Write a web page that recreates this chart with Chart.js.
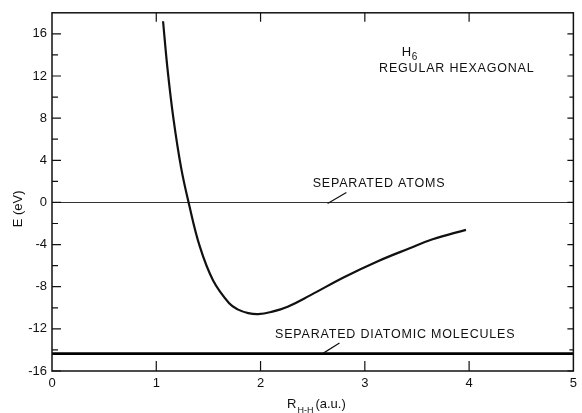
<!DOCTYPE html>
<html><head><meta charset="utf-8">
<style>html,body{margin:0;padding:0;background:#fff;}canvas{display:block;}</style>
<script src="https://cdn.jsdelivr.net/npm/chart.js@4.4.0/dist/chart.umd.min.js"></script>
</head><body>
<canvas id="c" width="582" height="413"></canvas>
<script>
// ---- data ----
const rValues = [1.065, 1.107, 1.164, 1.238, 1.310, 1.418, 1.545, 1.702, 1.78, 1.882, 1.977, 2.10, 2.26, 2.48, 2.80, 3.12, 3.43, 3.65, 3.97];
const eValues = [17.2, 12.75, 8.0, 3.3, 0.0, -4.2, -7.4, -9.6, -10.15, -10.5, -10.6, -10.4, -9.9, -8.8, -7.1, -5.6, -4.35, -3.5, -2.6];
const separatedAtomsE = 0;
const separatedDiatomicE = -14.35;
const xTickLabels = [0, 1, 2, 3, 4, 5];
const yTickLabels = [-16, -12, -8, -4, 0, 4, 8, 12, 16];
const yMinorTicks = [-14, -10, -6, -2, 2, 6, 10, 14];
const xRange = [0, 5];
const yRange = [-16, 18];

const FONT = '"Liberation Sans", Arial, sans-serif';

const curve = rValues.map((r, i) => ({x: r, y: eValues[i]}));
const atomsLine = xRange.map(x => ({x, y: separatedAtomsE}));
const diatomicLine = xRange.map(x => ({x, y: separatedDiatomicE}));

const decorPlugin = {
  id: 'decor',
  afterDraw(chart) {
    const ctx = chart.ctx, a = chart.chartArea;
    const xs = chart.scales.x, ys = chart.scales.y;
    const X = v => xs.getPixelForValue(v), Y = v => ys.getPixelForValue(v);
    ctx.save();
    ctx.strokeStyle = '#111';
    // frame
    ctx.lineWidth = 1.5;
    ctx.strokeRect(a.left, a.top, a.right - a.left, a.bottom - a.top);
    ctx.lineWidth = 1.2;
    ctx.beginPath();
    // left ticks (inward)
    yTickLabels.forEach(v => { ctx.moveTo(a.left, Y(v)); ctx.lineTo(a.left + 9, Y(v)); });
    yMinorTicks.forEach(v => { ctx.moveTo(a.left, Y(v)); ctx.lineTo(a.left + 6, Y(v)); });
    // right ticks
    yTickLabels.forEach(v => { ctx.moveTo(a.right, Y(v)); ctx.lineTo(a.right - 6, Y(v)); });
    yMinorTicks.forEach(v => { ctx.moveTo(a.right, Y(v)); ctx.lineTo(a.right - 4, Y(v)); });
    // top and bottom ticks
    xTickLabels.slice(1, -1).forEach(v => {
      ctx.moveTo(X(v), a.top); ctx.lineTo(X(v), a.top + 9);
      ctx.moveTo(X(v), a.bottom); ctx.lineTo(X(v), a.bottom - 10);
    });
    ctx.stroke();

    // pointer lines
    ctx.lineWidth = 1.2;
    ctx.beginPath();
    ctx.moveTo(X(2.643), Y(-0.1)); ctx.lineTo(X(2.823), Y(0.95));
    ctx.moveTo(X(2.595), Y(-14.35)); ctx.lineTo(X(2.757), Y(-13.35));
    ctx.stroke();

    // texts
    ctx.fillStyle = '#111';
    ctx.textBaseline = 'alphabetic';
    ctx.textAlign = 'left';
    ctx.letterSpacing = '0.8px';
    ctx.font = '12.5px ' + FONT;
    ctx.fillText('REGULAR HEXAGONAL', X(3.137), Y(12.4));
    ctx.fillText('SEPARATED ATOMS', X(2.50), Y(1.42));
    ctx.fillText('SEPARATED DIATOMIC MOLECULES', X(2.139), Y(-12.88));
    ctx.letterSpacing = '0px';
    ctx.font = '13px ' + FONT;
    ctx.fillText('H', X(3.355), Y(13.9));
    const hw = ctx.measureText('H').width;
    ctx.font = '10px ' + FONT;
    ctx.fillText('6', X(3.355) + hw + 0.5, Y(13.9) + 4);

    // axis titles
    ctx.font = '13px ' + FONT;
    ctx.save();
    ctx.translate(22, (a.top + a.bottom) / 2 + 17);
    ctx.rotate(-Math.PI / 2);
    ctx.textAlign = 'center';
    ctx.fillText('E (eV)', 0, 0);
    ctx.restore();
    const tx = 287, ty = 408;
    ctx.textAlign = 'left';
    ctx.fillText('R', tx, ty);
    const rw = ctx.measureText('R').width;
    ctx.font = '9px ' + FONT;
    ctx.fillText('H-H', tx + rw + 1, ty + 5);
    const sw = ctx.measureText('H-H').width;
    ctx.font = '13px ' + FONT;
    ctx.fillText('(a.u.)', tx + rw + sw + 3, ty);
    ctx.restore();
  }
};

new Chart(document.getElementById('c'), {
  type: 'line',
  data: {
    datasets: [
      {data: curve, borderColor: '#111', borderWidth: 2.2, pointRadius: 0, tension: 0.4, fill: false},
      {data: atomsLine, borderColor: '#333', borderWidth: 1.1, pointRadius: 0, fill: false},
      {data: diatomicLine, borderColor: '#000', borderWidth: 2.6, pointRadius: 0, fill: false}
    ]
  },
  options: {
    responsive: false,
    animation: false,
    devicePixelRatio: 1,
    layout: {padding: {top: 12, right: 4, left: 0, bottom: 0}},
    plugins: {legend: {display: false}, tooltip: {enabled: false}},
    scales: {
      x: {
        type: 'linear', min: xRange[0], max: xRange[1],
        grid: {display: false, drawTicks: false},
        border: {display: false},
        afterBuildTicks: s => { s.ticks = xTickLabels.map(v => ({value: v})); },
        afterFit: s => { s.height = 42; },
        ticks: {padding: 5, color: '#111', font: {family: FONT, size: 13}, maxRotation: 0, autoSkip: false}
      },
      y: {
        type: 'linear', min: yRange[0], max: yRange[1],
        grid: {display: false, drawTicks: false},
        border: {display: false},
        afterBuildTicks: s => { s.ticks = yTickLabels.map(v => ({value: v})); },
        afterFit: s => { s.width = 52; },
        ticks: {padding: 5, color: '#111', font: {family: FONT, size: 13}, autoSkip: false}
      }
    }
  },
  plugins: [decorPlugin]
});
</script>
</body></html>
